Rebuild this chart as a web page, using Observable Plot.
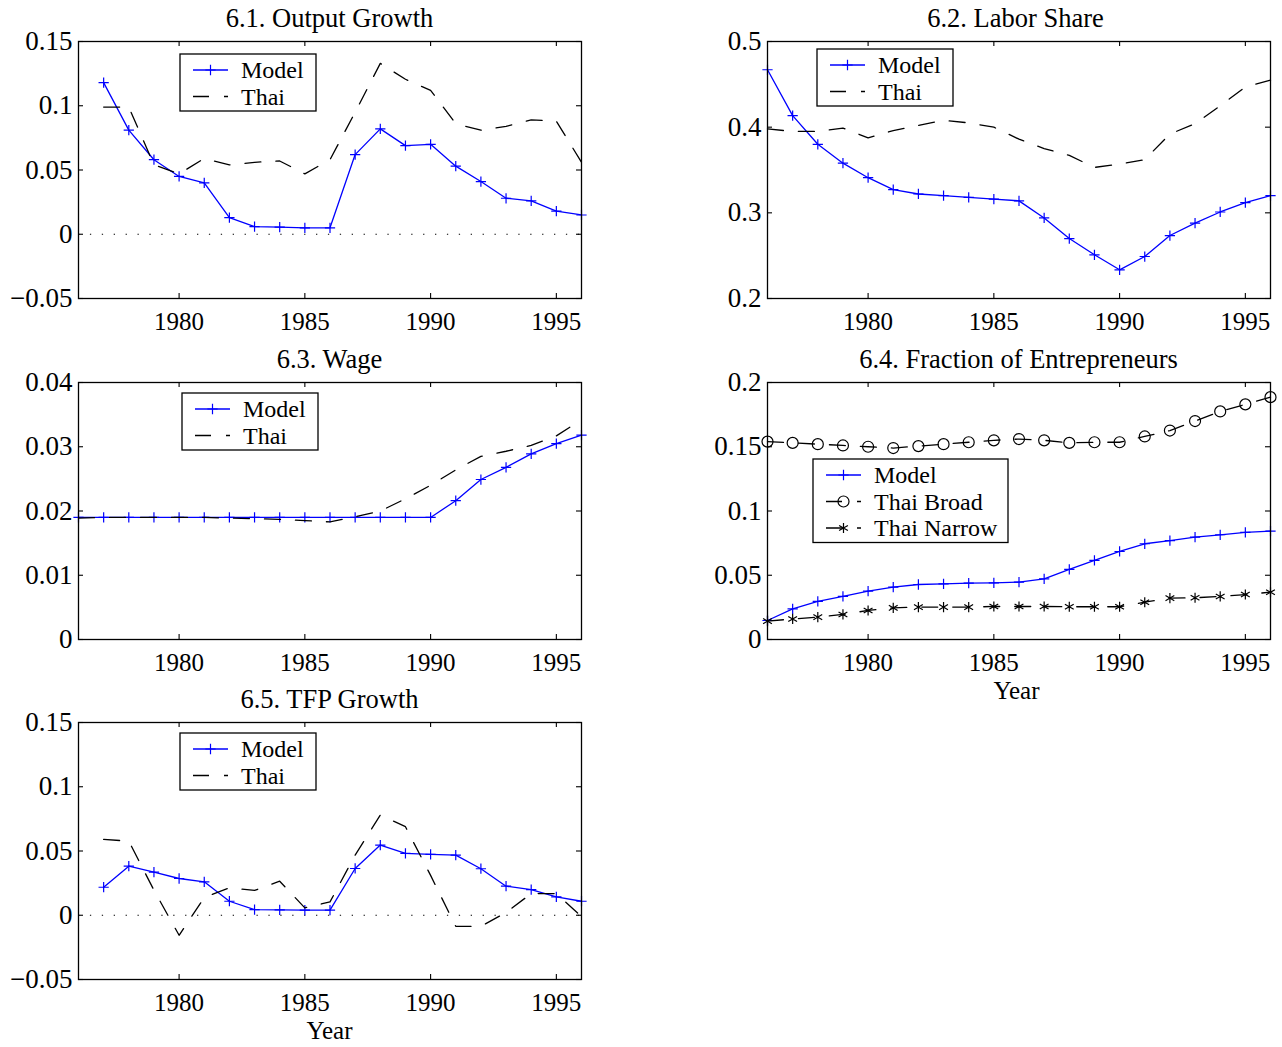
<!DOCTYPE html>
<html><head><meta charset="utf-8">
<script src="https://cdn.jsdelivr.net/npm/d3@7"></script>
<script src="https://cdn.jsdelivr.net/npm/@observablehq/plot@0.6"></script>
<style>
body{margin:0;background:#fff;}
#root{position:relative;width:1282px;height:1047px;background:#fff;font-family:"Liberation Serif","Times New Roman",serif;overflow:hidden;}
#root svg{position:absolute;}
</style></head><body><div id="root"></div>
<script>
// ---------- data ----------
const years76 = [1976,1977,1978,1979,1980,1981,1982,1983,1984,1985,1986,1987,1988,1989,1990,1991,1992,1993,1994,1995,1996];
const years77 = [1977,1978,1979,1980,1981,1982,1983,1984,1985,1986,1987,1988,1989,1990,1991,1992,1993,1994,1995,1996];
const xTicks = [1980,1985,1990,1995];

const outputModel = [0.118,0.081,0.058,0.045,0.040,0.013,0.006,0.0055,0.005,0.005,0.062,0.082,0.069,0.070,0.053,0.041,0.028,0.026,0.018,0.015];
const outputThai  = [0.099,0.099,0.054,0.047,0.059,0.054,0.056,0.057,0.047,0.058,0.095,0.133,0.1206,0.112,0.086,0.081,0.084,0.089,0.088,0.056];
const outputYTicks = [-0.05,0,0.05,0.1,0.15];

const laborModel = [0.467,0.4135,0.380,0.358,0.341,0.327,0.322,0.320,0.318,0.316,0.314,0.294,0.270,0.251,0.2335,0.249,0.2735,0.288,0.301,0.312,0.320];
const laborThai  = [0.398,0.395,0.395,0.399,0.3875,0.396,0.402,0.408,0.405,0.400,0.386,0.375,0.367,0.353,0.357,0.362,0.392,0.404,0.425,0.447,0.455];
const laborYTicks = [0.2,0.3,0.4,0.5];

const wageModel = [0.019,0.019,0.019,0.019,0.019,0.019,0.019,0.019,0.019,0.019,0.019,0.019,0.019,0.019,0.019,0.0216,0.0249,0.0268,0.0289,0.0305,0.0318];
const wageThai  = [0.0189,0.019,0.019,0.019,0.019,0.019,0.0189,0.0188,0.0187,0.0185,0.0183,0.0191,0.020,0.0219,0.024,0.0264,0.0285,0.0293,0.0302,0.0317,0.0342];
const wageYTicks = [0,0.01,0.02,0.03,0.04];

const entModel  = [0.0148,0.0239,0.0296,0.0335,0.0376,0.0407,0.0428,0.0433,0.0438,0.0441,0.0446,0.0472,0.0545,0.0615,0.0685,0.0745,0.077,0.0796,0.0815,0.0833,0.0843];
const entBroad  = [0.154,0.153,0.152,0.151,0.150,0.149,0.1505,0.152,0.1535,0.155,0.156,0.155,0.153,0.1535,0.1535,0.158,0.1626,0.170,0.1775,0.183,0.1886];
const entNarrow = [0.0143,0.016,0.0174,0.0195,0.0226,0.0246,0.0252,0.0252,0.0252,0.0257,0.0257,0.0257,0.0255,0.0255,0.0255,0.029,0.0322,0.0325,0.0335,0.035,0.0368];
const entYTicks = [0,0.05,0.1,0.15,0.2];

const tfpModel = [0.0218,0.0382,0.0335,0.0286,0.026,0.0109,0.0044,0.0042,0.004,0.004,0.0364,0.0546,0.0481,0.0473,0.0468,0.0362,0.0226,0.020,0.0143,0.0109];
const tfpThai  = [0.059,0.0577,0.0195,-0.0156,0.0138,0.0213,0.0193,0.0265,0.0057,0.0104,0.0468,0.078,0.0689,0.031,-0.0086,-0.0086,0.0021,0.0169,0.0169,-0.001];
const tfpYTicks = [-0.05,0,0.05,0.1,0.15];

const titles = ["6.1. Output Growth","6.2. Labor Share","6.3. Wage","6.4. Fraction of Entrepreneurs","6.5. TFP Growth"];

// ---------- styles ----------
const BLUE = "#0000ff";
const DASH = "16,15";
const FONT = "'Liberation Serif','Times New Roman',serif";
const st = {
  model:  {color: BLUE, dash: null, symbol: "plus", r: 3.4},
  thai:   {color: "black", dash: DASH, symbol: null},
  broad:  {color: "black", dash: DASH, symbol: "circle", r: 5.5},
  narrow: {color: "black", dash: DASH, symbol: "asterisk", r: 4.8}
};

const root = document.getElementById("root");
const fmt = d3.format("~g");
const W = 503, H = 257, mL = 80, mT = 10, mR = 20, mB = 50;

function panel({left, top, yDomain, yTicks, series, zero}) {
  const marks = [];
  if (zero) marks.push(Plot.ruleY([0], {stroke: "black", strokeWidth: 1.2, strokeDasharray: "1.3,10.6"}));
  for (const s of series) {
    const data = s.x.map((x, i) => ({x, y: s.y[i]}));
    marks.push(Plot.line(data, {x: "x", y: "y", stroke: s.style.color, strokeWidth: 1.3, strokeDasharray: s.style.dash}));
    if (s.style.symbol) marks.push(Plot.dot(data, {x: "x", y: "y", symbol: s.style.symbol, r: s.style.r, stroke: s.style.color, fill: "none", strokeWidth: 1.2}));
  }
  marks.push(Plot.frame({stroke: "black", strokeWidth: 1.3}));
  marks.push(Plot.tickX(xTicks, {x: d => d, insetTop: H - 5, stroke: "black", strokeWidth: 1.1}));
  marks.push(Plot.tickX(xTicks, {x: d => d, insetBottom: H - 5, stroke: "black", strokeWidth: 1.1}));
  marks.push(Plot.tickY(yTicks, {y: d => d, insetRight: W - 5, stroke: "black", strokeWidth: 1.1}));
  marks.push(Plot.tickY(yTicks, {y: d => d, insetLeft: W - 5, stroke: "black", strokeWidth: 1.1}));
  marks.push(Plot.axisX(xTicks, {tickSize: 0, tickPadding: 13.5, tickFormat: d => String(d), label: null, fill: "black", fontSize: 25}));
  marks.push(Plot.axisY(yTicks, {tickSize: 0, tickPadding: 6, tickFormat: fmt, label: null, fill: "black", fontSize: 27}));
  const svg = Plot.plot({
    width: mL + W + mR, height: mT + H + mB,
    marginLeft: mL, marginRight: mR, marginTop: mT, marginBottom: mB,
    x: {domain: [1976, 1996]},
    y: {domain: yDomain},
    style: {fontFamily: FONT, fontSize: "25px", background: "transparent", overflow: "visible", color: "black"},
    marks
  });
  svg.style.left = (left - mL) + "px";
  svg.style.top = (top - mT) + "px";
  root.appendChild(svg);
}

const L = 78, R = 767, T1 = 41, T2 = 382, T3 = 722;
panel({left: L, top: T1, yDomain: [-0.05, 0.15], yTicks: outputYTicks, zero: true,
  series: [{x: years77, y: outputModel, style: st.model}, {x: years77, y: outputThai, style: st.thai}]});
panel({left: R, top: T1, yDomain: [0.2, 0.5], yTicks: laborYTicks,
  series: [{x: years76, y: laborModel, style: st.model}, {x: years76, y: laborThai, style: st.thai}]});
panel({left: L, top: T2, yDomain: [0, 0.04], yTicks: wageYTicks,
  series: [{x: years76, y: wageModel, style: st.model}, {x: years76, y: wageThai, style: st.thai}]});
panel({left: R, top: T2, yDomain: [0, 0.2], yTicks: entYTicks,
  series: [{x: years76, y: entModel, style: st.model}, {x: years76, y: entBroad, style: st.broad}, {x: years76, y: entNarrow, style: st.narrow}]});
panel({left: L, top: T3, yDomain: [-0.05, 0.15], yTicks: tfpYTicks, zero: true,
  series: [{x: years77, y: tfpModel, style: st.model}, {x: years77, y: tfpThai, style: st.thai}]});

// ---------- overlay: titles, x labels, legends ----------
const ov = d3.select(root).append("svg").attr("width", 1282).attr("height", 1047)
  .style("left", "0px").style("top", "0px").style("font-family", FONT).style("pointer-events", "none");

const titlePos = [[L + W/2, T1 - 14], [R + W/2 - 3, T1 - 14], [L + W/2, T2 - 14], [R + W/2, T2 - 14], [L + W/2, T3 - 14]];
titles.forEach((t, i) => ov.append("text").attr("x", titlePos[i][0]).attr("y", titlePos[i][1])
  .attr("text-anchor", "middle").attr("font-size", 26.5).text(t));
[[R + W/2 - 2, T2 + H + 59.5], [L + W/2, T3 + H + 59.5]].forEach(p =>
  ov.append("text").attr("x", p[0]).attr("y", p[1]).attr("text-anchor", "middle").attr("font-size", 25).text("Year"));

const symMap = {plus: d3.symbolPlus, circle: d3.symbolCircle, asterisk: d3.symbolAsterisk};
function legend(x, y, w, entries) {
  const rowH = 26.5, h = entries.length * rowH + 4;
  const g = ov.append("g").attr("transform", `translate(${x},${y})`);
  g.append("rect").attr("width", w).attr("height", h).attr("fill", "white").attr("stroke", "black").attr("stroke-width", 1.3);
  entries.forEach(([label, s], i) => {
    const cy = 16 + i * rowH;
    g.append("line").attr("x1", 13).attr("x2", 48).attr("y1", cy).attr("y2", cy)
      .attr("stroke", s.color).attr("stroke-width", 1.3).attr("stroke-dasharray", s.dash);
    if (s.symbol) g.append("path").attr("transform", `translate(30.5,${cy})`)
      .attr("d", d3.symbol(symMap[s.symbol], Math.PI * s.r * s.r)())
      .attr("fill", "none").attr("stroke", s.color).attr("stroke-width", 1.2);
    g.append("text").attr("x", 61).attr("y", cy + 8).attr("font-size", 24).text(label);
  });
}
legend(180, 54, 136, [["Model", st.model], ["Thai", st.thai]]);
legend(817, 49, 136, [["Model", st.model], ["Thai", st.thai]]);
legend(182, 393, 136, [["Model", st.model], ["Thai", st.thai]]);
legend(813, 459, 195, [["Model", st.model], ["Thai Broad", st.broad], ["Thai Narrow", st.narrow]]);
legend(180, 733, 136, [["Model", st.model], ["Thai", st.thai]]);
</script></body></html>
